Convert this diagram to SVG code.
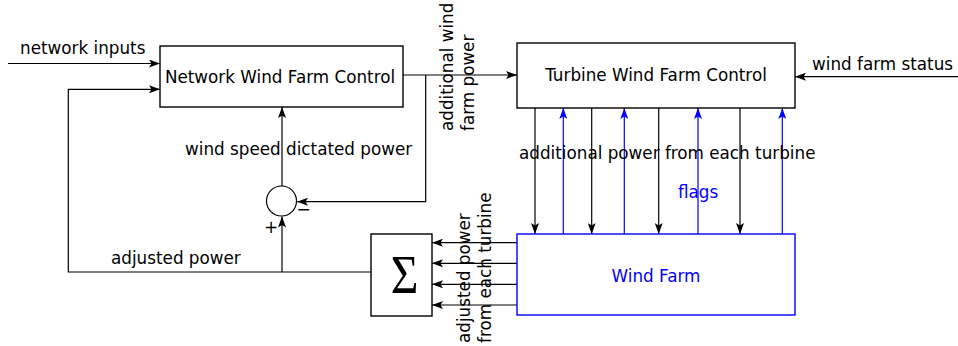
<svg xmlns="http://www.w3.org/2000/svg" width="958" height="346" viewBox="0 0 958 346">
<defs>
<marker id="ah" viewBox="0 0 11 8" refX="11" refY="4" markerWidth="11" markerHeight="8" markerUnits="userSpaceOnUse" orient="auto">
<path d="M0,0 L11,4 L0,8 L2.5,4 z" fill="#000"/>
</marker>
<marker id="ahb" viewBox="0 0 11 8" refX="11" refY="4" markerWidth="11" markerHeight="8" markerUnits="userSpaceOnUse" orient="auto">
<path d="M0,0 L11,4 L0,8 L2.5,4 z" fill="#0000ff"/>
</marker>
</defs>
<style>
text{font-family:"DejaVu Sans","Liberation Sans",sans-serif;font-size:16.8px;fill:#000}
.box{fill:#fff;stroke:#000;stroke-width:1.4}
.bbox{fill:#fff;stroke:#0000ff;stroke-width:1.4}
.c{fill:none;stroke:#000;stroke-width:1.2}
.cb{fill:none;stroke:#0000ff;stroke-width:1.2}
.blue{fill:#0000ff}
.mid{text-anchor:middle}
</style>
<rect width="958" height="346" fill="#fff"/>
<g id="connectors">
<path class="c" d="M8,63.5 H160" marker-end="url(#ah)"/>
<path class="c" d="M371,272 H68.3 V89.3 H160" marker-end="url(#ah)"/>
<path class="c" d="M403,75 H517" marker-end="url(#ah)"/>
<path class="c" d="M425.7,75 V201.7 H297" marker-end="url(#ah)"/>
<path class="c" d="M282,186 V107" marker-end="url(#ah)"/>
<path class="c" d="M282,272 V216.5" marker-end="url(#ah)"/>
<path class="c" d="M958,76.7 H795" marker-end="url(#ah)"/>
<path class="c" d="M535,108 V234" marker-end="url(#ah)"/>
<path class="c" d="M591.7,108 V234" marker-end="url(#ah)"/>
<path class="c" d="M658.7,108 V234" marker-end="url(#ah)"/>
<path class="c" d="M740,108 V234" marker-end="url(#ah)"/>
<path class="cb" d="M563.3,234 V108" marker-end="url(#ahb)"/>
<path class="cb" d="M624.3,234 V108" marker-end="url(#ahb)"/>
<path class="cb" d="M698,234 V108" marker-end="url(#ahb)"/>
<path class="cb" d="M782.3,234 V108" marker-end="url(#ahb)"/>
<path class="c" d="M517,242.7 H432" marker-end="url(#ah)"/>
<path class="c" d="M517,263.3 H432" marker-end="url(#ah)"/>
<path class="c" d="M517,284.3 H432" marker-end="url(#ah)"/>
<path class="c" d="M517,305 H432" marker-end="url(#ah)"/>
</g>
<g id="nwfc">
<rect class="box" x="160" y="46" width="243" height="61"/>
<text class="mid" x="280" y="83">Network Wind Farm Control</text>
</g>
<g id="twfc">
<rect class="box" x="517" y="43" width="278" height="65"/>
<text class="mid" x="656" y="81">Turbine Wind Farm Control</text>
</g>
<g id="windfarm">
<rect class="bbox" x="517" y="234" width="278" height="81"/>
<text class="mid blue" x="656" y="281.5">Wind Farm</text>
</g>
<g id="sum">
<rect class="box" x="371" y="234" width="61" height="82"/>
<text class="mid" x="404.5" y="293.5" style="font-family:'Liberation Serif',serif;font-size:56px" transform="translate(404.5,0) scale(0.85,1) translate(-404.5,0)">Σ</text>
</g>
<g id="junction">
<circle cx="281.5" cy="201" r="15" fill="#fff" stroke="#000" stroke-width="1.2"/>
<text class="mid" x="271" y="233" style="font-size:17px">+</text>
<text class="mid" x="303.5" y="215" style="font-size:17px">−</text>
</g>
<g id="labels">
<text x="20" y="53.5">network inputs</text>
<text x="185" y="155">wind speed dictated power</text>
<text x="812" y="69.5">wind farm status</text>
<text x="519" y="159">additional power from each turbine</text>
<text class="blue" x="678" y="198">flags</text>
<text x="111" y="264">adjusted power</text>
<text transform="translate(453,131) rotate(-90)">additional wind</text>
<text transform="translate(474,131) rotate(-90)">farm power</text>
<text transform="translate(470,343) rotate(-90)">adjusted power</text>
<text transform="translate(490.5,343) rotate(-90)">from each turbine</text>
</g>
</svg>
